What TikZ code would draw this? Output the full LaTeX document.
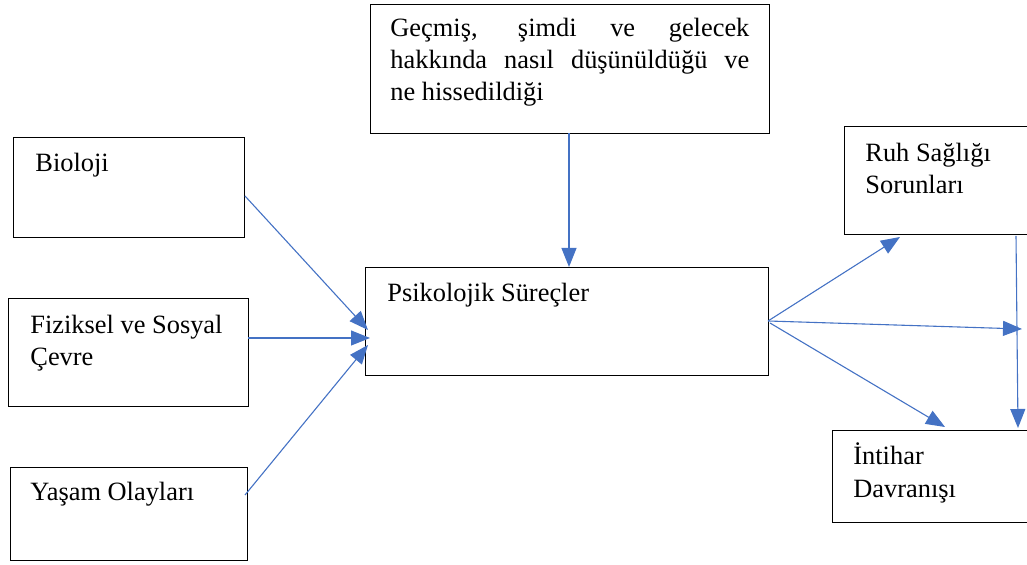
\documentclass[tikz,border=0pt]{standalone}
\usepackage{fontspec}
\setmainfont{Liberation Serif}
\usetikzlibrary{arrows.meta}
\definecolor{arrowblue}{RGB}{68,114,196}
\begin{document}
\begin{tikzpicture}[x=0.5pt,y=-0.5pt,
  box/.style={draw=black,line width=0.7pt,anchor=north west,inner sep=0pt},
  lbl/.style={anchor=base west,inner sep=0pt,font=\fontsize{13.2}{16}\selectfont},
  conn/.style={draw=arrowblue,line width=0.55pt,-{Triangle[length=9.5pt,width=7.5pt]}}]
\useasboundingbox (0,0) rectangle (1027,565);
% boxes
\node[box,minimum width=199.5pt,minimum height=64.5pt] (top) at (370,4) {};
\node[box,minimum width=115.5pt,minimum height=50pt] (bio) at (13,137) {};
\node[box,minimum width=120pt,minimum height=54pt] (fiz) at (8,298) {};
\node[box,minimum width=118.5pt,minimum height=46.5pt] (yas) at (10,467) {};
\node[box,minimum width=201.5pt,minimum height=54pt] (psi) at (365,267) {};
\node[box,minimum width=98pt,minimum height=54pt] (ruh) at (844,126) {};
\node[box,minimum width=104pt,minimum height=46pt] (int) at (832,430) {};
% texts
\node[lbl] (t1) at (390,37) {\makebox[179.5pt][s]{Geçmiş, şimdi ve gelecek}};
\node[lbl] (t2) at (390,69) {\makebox[179.5pt][s]{hakkında nasıl düşünüldüğü ve}};
\node[lbl] (t3) at (390,101) {ne hissedildiği};
\node[lbl] (tbio) at (35,172) {Bioloji};
\node[lbl] (tfiz1) at (30,334) {Fiziksel ve Sosyal};
\node[lbl] (tfiz2) at (30,366) {Çevre};
\node[lbl] (tyas) at (30,501) {Yaşam Olayları};
\node[lbl] (tpsi) at (387,302) {Psikolojik Süreçler};
\node[lbl] (truh1) at (865,162) {Ruh Sağlığı};
\node[lbl] (truh2) at (865,194) {Sorunları};
\node[lbl] (tint1) at (853,465) {İntihar};
\node[lbl] (tint2) at (853,498) {Davranışı};
% connector endpoints
\coordinate (bioS) at (245,196);
\coordinate (bioE) at (368,330);
\coordinate (fizS) at (248,338);
\coordinate (fizE) at (370,338);
\coordinate (yasS) at (245,495);
\coordinate (yasE) at (368,345);
\coordinate (topS) at (569,133);
\coordinate (topE) at (569,267);
\coordinate (psiS) at (768,321);
\coordinate (psiS2) at (770,323);
\coordinate (ruhE) at (900,237);
\coordinate (midE) at (1022,329);
\coordinate (intE) at (945,427);
\coordinate (ruhS) at (1016,236);
\coordinate (intE2) at (1018,428);
% connectors
\draw[conn] (bioS) -- (bioE);
\draw[conn] (fizS) -- (fizE);
\draw[conn] (yasS) -- (yasE);
\draw[conn] (topS) -- (topE);
\draw[conn] (psiS) -- (ruhE);
\draw[conn] (psiS) -- (midE);
\draw[conn] (psiS2) -- (intE);
\draw[conn] (ruhS) -- (intE2);
\end{tikzpicture}
\end{document}
